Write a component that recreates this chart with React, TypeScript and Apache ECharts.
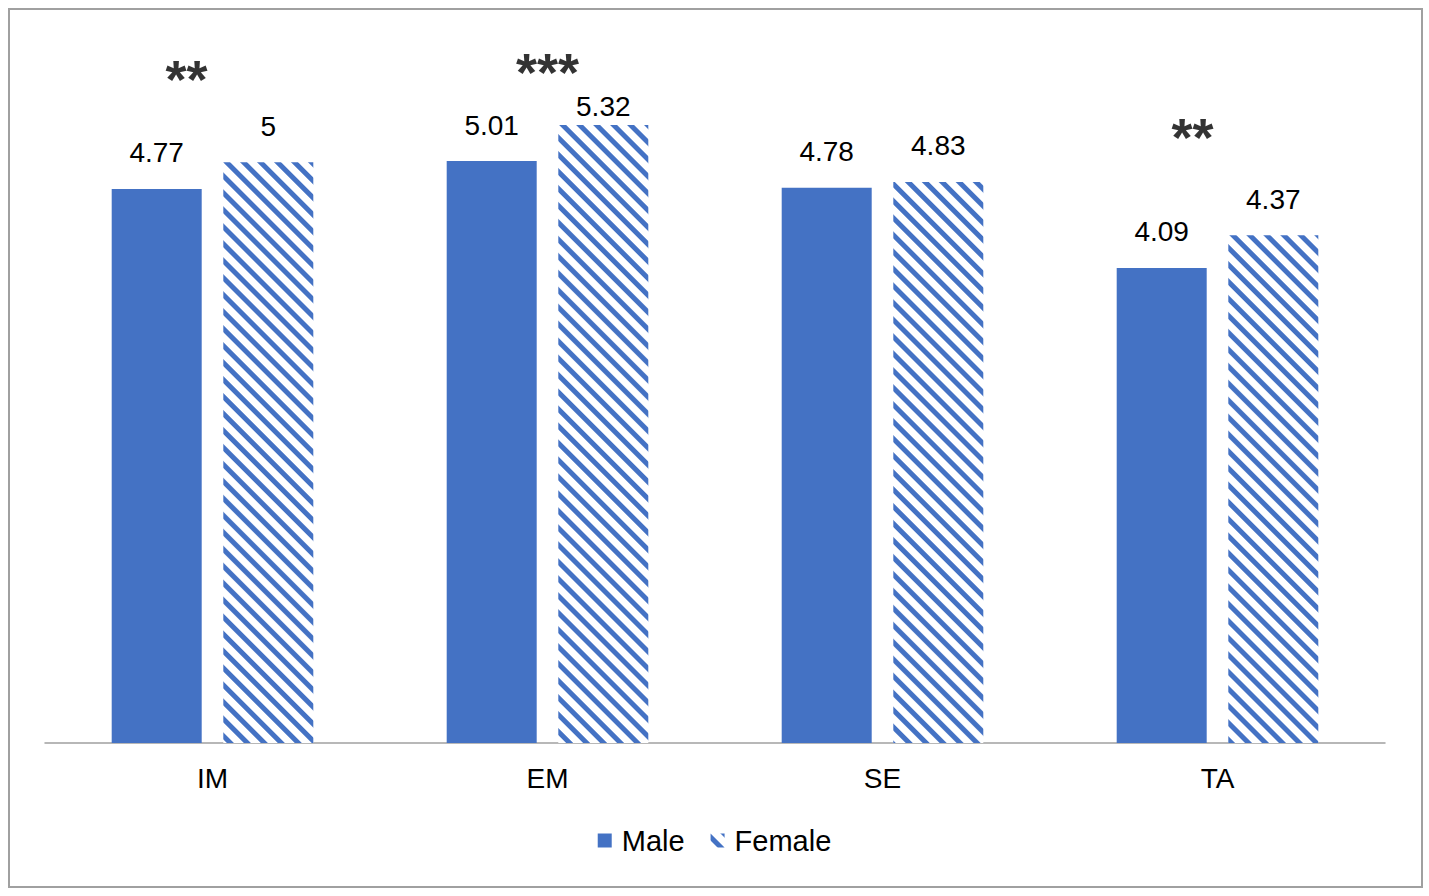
import React, { useEffect, useRef } from "react";
import * as echarts from "echarts";

const categories = ["IM", "EM", "SE", "TA"];
const maleValues = [4.77, 5.01, 4.78, 4.09];
const femaleValues = [5, 5.32, 4.83, 4.37];
const sigMarks = ["**", "***", "", "**"];
const sigHeights = [5.72, 5.78, null, 5.22];
const sigOffsets = [-26, 0, 0, -25];

const BLUE = "#4472C4";
const FONT = "Liberation Sans, Arial, sans-serif";

export default function App() {
  const ref = useRef<HTMLDivElement>(null);
  useEffect(() => {
    document.body.style.margin = "0";
    const chart = echarts.init(ref.current!, null, { renderer: "svg" });
    const sigData = sigHeights.map((v, i) =>
      v == null
        ? "-"
        : {
            value: v,
            label: { formatter: sigMarks[i], offset: [sigOffsets[i], 0] },
          }
    );
    const femaleData = femaleValues.map((v) =>
      v === 5.32 ? { value: v, label: { distance: 4 } } : v
    );
    const valueLabel = {
      show: true,
      position: "top",
      distance: 22,
      fontSize: 28,
      color: "#000",
      fontFamily: FONT,
    };
    chart.setOption({
      animation: false,
      backgroundColor: "#fff",
      textStyle: { fontFamily: FONT },
      graphic: [
        {
          type: "rect",
          shape: { x: 9, y: 9, width: 1413, height: 878 },
          style: { fill: "none", stroke: "#a0a0a0", lineWidth: 2 },
          silent: true,
        },
      ],
      grid: { left: 45, right: 44, top: 46, bottom: 153 },
      legend: {
        data: ["Male", "Female"],
        icon: "rect",
        bottom: 36,
        left: "center",
        itemWidth: 14,
        itemHeight: 14,
        itemGap: 26,
        textStyle: {
          fontSize: 29,
          color: "#000",
          fontFamily: FONT,
          padding: [0, 0, 0, 5],
        },
      },
      xAxis: {
        type: "category",
        data: categories,
        axisLine: { lineStyle: { color: "#a0a0a0", width: 1.5 } },
        axisTick: { show: false },
        axisLabel: { fontSize: 28, color: "#000", margin: 21, fontFamily: FONT },
      },
      yAxis: {
        type: "value",
        min: 0,
        max: 6,
        show: false,
        splitLine: { show: false },
      },
      series: [
        {
          name: "Male",
          type: "bar",
          data: maleValues,
          barWidth: 90,
          barGap: "24%",
          itemStyle: { color: BLUE },
          label: valueLabel,
        },
        {
          name: "Female",
          type: "bar",
          data: femaleData,
          barWidth: 90,
          barGap: "24%",
          itemStyle: {
            color: "#fff",
            decal: {
              symbol: "rect",
              symbolSize: 1,
              color: BLUE,
              dashArrayX: [1, 0],
              dashArrayY: [5, 7],
              rotation: Math.PI / 4,
            },
          },
          label: valueLabel,
        },
        {
          name: "sig",
          type: "scatter",
          data: sigData,
          symbolSize: 0,
          silent: true,
          label: {
            show: true,
            position: "inside",
            fontSize: 54,
            fontWeight: "bold",
            color: "#000",
            fontFamily: FONT,
          },
        },
      ],
    });
    return () => chart.dispose();
  }, []);
  return <div ref={ref} style={{ width: 1429, height: 896 }} />;
}
